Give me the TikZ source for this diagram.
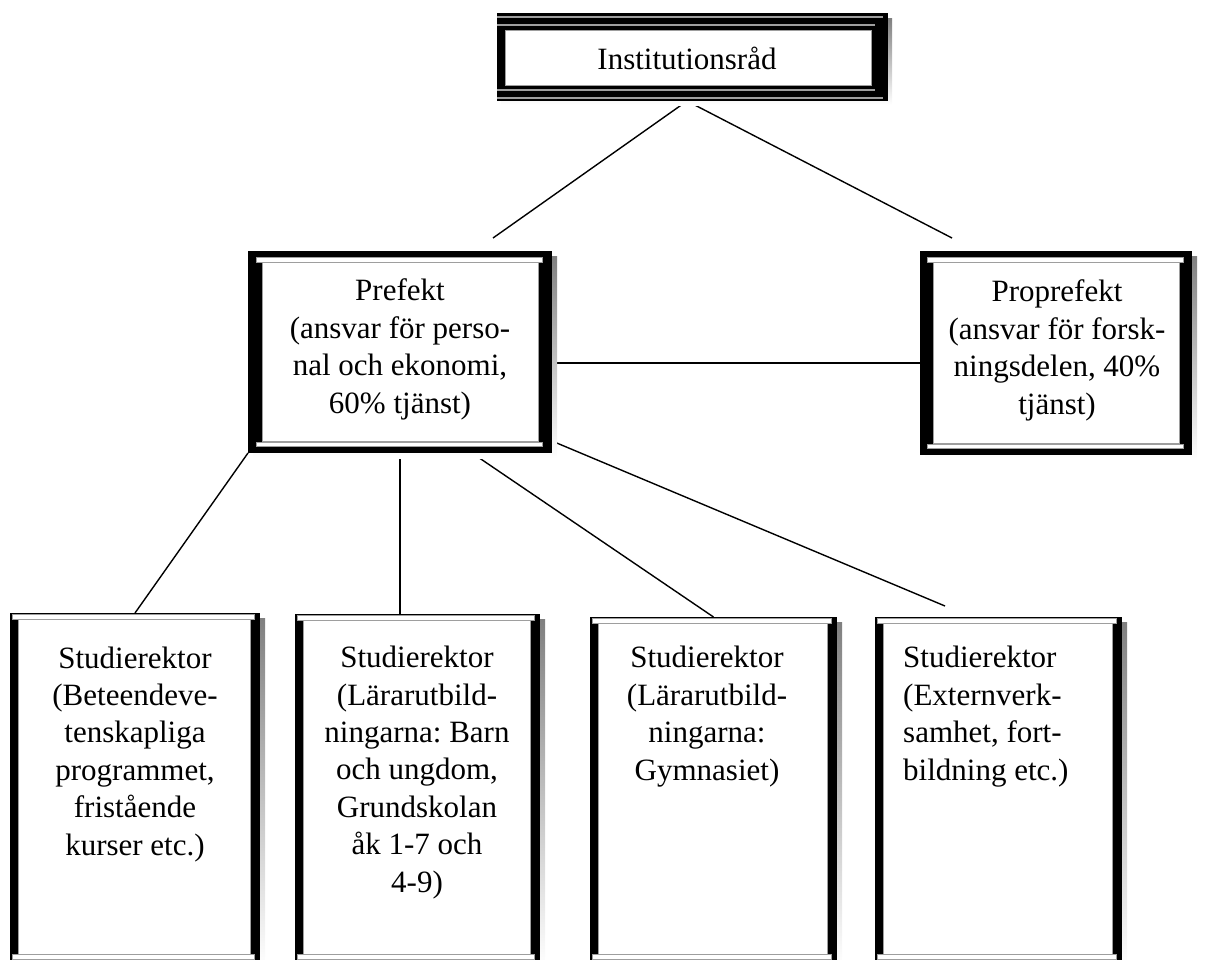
\documentclass[tikz,border=0pt]{standalone}
\usepackage{fontspec}
\setmainfont{Liberation Serif}
\usetikzlibrary{calc}
\frenchspacing
\definecolor{shade}{gray}{0.5}
\definecolor{rule}{gray}{0.62}
\definecolor{pale}{gray}{0.82}

% Shadowed Word-style frame: #2 top rule, #3 left rule, #4 right rule
\newcommand\wordframe[4]{%
  \fill[shade] ($(#1.north west)+(5,5)$) rectangle ($(#1.south east)+(5,5)$);
  \fill[black] (#1.north west) rectangle (#1.south east);
  \filldraw[fill=white, draw=rule, line width=1pt]
    ($(#1.north west)+(#3-6,#2)$) rectangle ($(#1.north east)+(4-#4,#2+4.5)$);
  \filldraw[fill=white, draw=rule, line width=1pt]
    ($(#1.south west)+(#3-6,-#2-4.5)$) rectangle ($(#1.south east)+(4-#4,-#2)$);
  \filldraw[fill=white, draw=rule, line width=1pt]
    ($(#1.north west)+(#3,#2+5)$) rectangle ($(#1.south east)+(-#4,-#2-5)$);
}

\tikzset{
  area/.style={inner sep=0pt, outer sep=0pt, draw=none},
  link/.style={line width=1.4pt, black},
  lbl/.style={inner sep=0pt, align=center, anchor=base,
    font=\fontsize{31}{37.4}\selectfont},
}

\begin{document}
\begin{tikzpicture}[x=1pt, y=-1pt]
\useasboundingbox (0,0) rectangle (1213,959);
\clip (0,0) rectangle (1213,959);

% box areas
\node[area, minimum width=391pt, minimum height=88pt]  (inst) at (692.5,57) {};
\node[area, minimum width=304pt, minimum height=202pt] (pre)  at (400,352) {};
\node[area, minimum width=272pt, minimum height=204pt] (pro)  at (1056,353) {};
\node[area, minimum width=250pt, minimum height=348pt] (b1)   at (135,787) {};
\node[area, minimum width=245pt, minimum height=347pt] (b2)   at (417.5,787.5) {};
\node[area, minimum width=247pt, minimum height=344pt] (b3)   at (713.5,789) {};
\node[area, minimum width=247pt, minimum height=344pt] (b4)   at (998.5,789) {};

\coordinate (apex) at ([xshift=-5.5pt]inst.south);
\coordinate (lt) at (493,238);
\coordinate (rt) at (952,238);
\coordinate (c4) at (945,606);

% connectors
\draw[link] (apex) -- (lt);
\draw[link] (apex) -- (rt);
\draw[link] ([yshift=-11pt]pre.east) -- ([yshift=-10pt]pro.west);
\draw[link] (pre.south west) -- (b1.north);
\draw[link] (pre.south) -- (pre.south |- b2.north);
\draw[link] ([xshift=72pt]pre.south) -- (b3.north);
\draw[link] ([yshift=12pt]pre.south east) -- (c4);

% top frame with multiple rules
\fill[shade] ($(inst.north west)+(4,5)$) rectangle ($(inst.south east)+(4,4)$);
\fill[black] (inst.north west) rectangle (inst.south east);
\draw[rule, line width=1.6pt] ($(inst.north west)+(0,4)$) -- ($(inst.north east)+(-5,4)$);
\draw[rule, line width=1.6pt] ($(inst.north west)+(0,12)$) -- ($(inst.north east)+(-13,12)$);
\draw[rule, line width=1.6pt] ($(inst.south west)+(0,-11)$) -- ($(inst.south east)+(-13,-11)$);
\draw[rule, line width=1.6pt] ($(inst.south west)+(0,-3)$) -- ($(inst.south east)+(-5,-3)$);
\filldraw[fill=white, draw=rule, line width=1pt]
  ($(inst.north west)+(8,17)$) rectangle ($(inst.south east)+(-17,-16)$);

% framed boxes
\wordframe{pre}{6.5}{14}{14}
\wordframe{pro}{6.5}{13}{13}
\wordframe{b1}{1.8}{8}{10}
\wordframe{b2}{1.8}{8}{10}
\wordframe{b3}{1.8}{8}{10}
\wordframe{b4}{1.8}{8}{10}

% texts (anchored at the baseline of the last line)
\node[lbl] (tinst) at (687,69) {Institutionsråd};
\node[lbl] (tpre) at (400,413) {Prefekt\\(ansvar för perso-\\nal och ekonomi,\\60\% tjänst)};
\node[lbl] (tpro) at (1057,414) {Proprefekt\\(ansvar för forsk-\\ningsdelen, 40\%\\tjänst)};
\node[lbl] (tb1) at (135,855) {Studierektor\\(Beteendeve-\\tenskapliga\\programmet,\\fristående\\kurser etc.)};
\node[lbl] (tb2) at (417,892) {Studierektor\\(Lärarutbild-\\ningarna: Barn\\och ungdom,\\Grundskolan\\åk 1-7 och\\4-9)};
\node[lbl] (tb3) at (707,780) {Studierektor\\(Lärarutbild-\\ningarna:\\Gymnasiet)};
\node[lbl, align=left, anchor=base west] (tb4) at (903,780) {Studierektor\\(Externverk-\\samhet, fort-\\bildning etc.)};
\end{tikzpicture}
\end{document}
